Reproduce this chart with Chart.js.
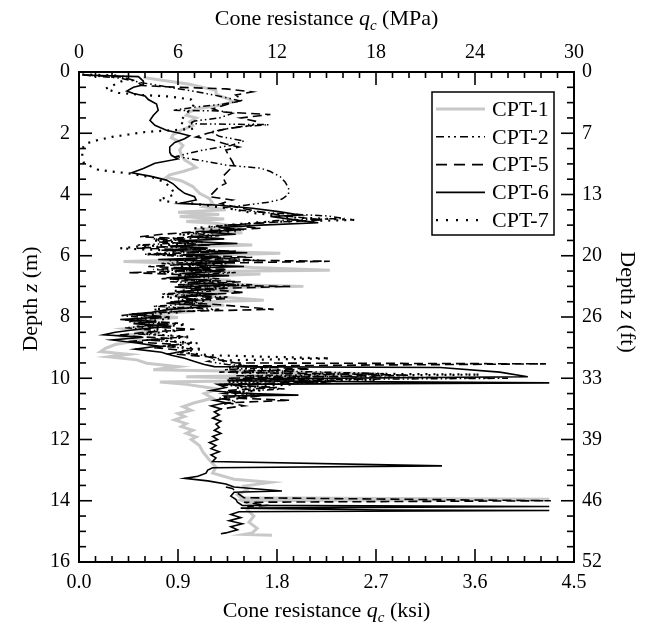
<!DOCTYPE html>
<html>
<head>
<meta charset="utf-8">
<script src="https://cdn.jsdelivr.net/npm/chart.js@4.4.0/dist/chart.umd.min.js"></script>
<style>
  html, body { margin: 0; padding: 0; background: #fff; }
  canvas { display: block; }
</style>
</head>
<body>
<canvas id="cptChart" width="649" height="633"></canvas>
<script>
// tick labels
const mpaTicks = [0, 6, 12, 18, 24, 30];
const ksiLabels = ["0.0", "0.9", "1.8", "2.7", "3.6", "4.5"];
const depthTicks = [0, 2, 4, 6, 8, 10, 12, 14, 16];
const ftLabels = ["0", "7", "13", "20", "26", "33", "39", "46", "52"];

const seriesNames = ["CPT-1", "CPT-2", "CPT-5", "CPT-6", "CPT-7"];

// [depth (m), qc (MPa)]
const cpt1 = [
  [0.18,3.9],[0.40,6.7],[0.60,8.3],[0.70,8.3],[0.78,8.5],[0.88,9.1],[0.98,9.3],[1.09,8.5],[1.20,7.2],[1.30,6.7],
  [1.41,6.5],[1.50,7.1],[1.63,6.7],[1.75,6.9],[1.90,6.2],[2.05,5.7],[2.15,5.6],[2.25,6.0],[2.40,6.3],[2.55,6.1],
  [2.70,6.2],[2.87,6.4],[3.00,6.8],[3.12,7.1],[3.25,6.3],[3.36,5.5],[3.44,5.3],[3.55,6.2],[3.74,6.9],[3.96,7.3],
  [4.13,7.9],[4.29,8.1],[4.40,7.6],[4.50,8.9],[4.58,6.0],[4.65,8.5],[4.72,6.1],[4.80,8.8],[4.88,6.5],[4.95,8.4],
  [5.05,9.5],[5.15,7.0],[5.25,9.9],[5.35,6.8],[5.45,8.2],[5.55,6.0],[5.65,10.5],[5.72,5.5],[5.85,7.5],[5.92,12.2],
  [6.00,6.5],[6.10,9.5],[6.19,2.7],[6.28,8.0],[6.38,10.5],[6.47,15.2],[6.52,6.0],[6.60,11.0],[6.70,5.5],[6.80,9.2],
  [6.90,6.5],[7.00,13.6],[7.05,7.0],[7.15,9.5],[7.25,5.8],[7.35,8.6],[7.45,11.2],[7.52,6.5],[7.62,8.8],[7.72,5.2],
  [7.82,7.0],[7.92,4.0],[8.02,6.0],[8.12,3.0],[8.25,5.0],[8.38,2.8],[8.50,4.5],[8.62,2.5],[8.75,3.8],[8.90,2.2],
  [9.02,1.6],[9.13,1.3],[9.22,3.0],[9.30,1.8],[9.40,3.5],[9.51,4.1],[9.62,6.0],[9.72,4.5],[9.85,18.0],[9.95,6.5],
  [10.05,14.8],[10.12,4.9],[10.20,6.5],[10.35,8.4],[10.50,7.6],[10.65,8.1],[10.80,7.0],[10.93,6.3],[11.05,6.8],[11.15,6.0],
  [11.25,6.4],[11.36,5.8],[11.48,6.5],[11.58,6.2],[11.70,6.9],[11.80,6.5],[11.92,7.1],[12.00,6.8],[12.20,7.3],[12.40,7.5],
  [12.67,7.9],[12.90,8.3],[13.10,8.1],[13.30,9.4],[13.40,11.6],[13.52,10.0],[13.64,10.2],[13.80,9.6],[13.90,9.8],[13.95,28.5],
  [14.00,9.9],[14.10,10.4],[14.30,10.2],[14.50,10.6],[14.70,10.3],[14.90,10.8],[15.05,10.5],[15.10,10.0],[15.13,11.7]
];

const cpt2 = [
  [0.10,0.3],[0.20,2.5],[0.35,3.8],[0.50,5.5],[0.65,7.2],[0.80,8.6],[0.95,9.8],[1.05,8.7],[1.15,7.0],[1.25,5.7],
  [1.27,8.5],[1.35,9.3],[1.50,8.5],[1.60,7.0],[1.69,6.7],[1.72,11.5],[1.80,9.5],[1.95,8.0],[2.10,8.5],[2.25,10.0],
  [2.40,9.2],[2.55,7.5],[2.70,6.3],[2.76,5.9],[2.90,7.5],[3.04,8.9],[3.14,11.0],[3.25,11.6],[3.42,12.2],[3.60,12.5],
  [3.80,12.7],[4.00,12.7],[4.15,12.3],[4.25,11.5],[4.34,10.2],[4.42,8.9],[4.50,9.5],[4.60,11.5],[4.70,15.0],[4.78,16.1],
  [4.85,12.0],[4.95,10.5],[5.05,8.0],[5.15,10.0],[5.25,6.5],[5.35,8.5],[5.45,4.5],[5.55,7.5],[5.65,3.5],[5.75,6.5],
  [5.85,9.0],[5.95,4.0],[6.05,7.5],[6.15,11.0],[6.25,5.0],[6.35,8.0],[6.45,4.5],[6.55,9.5],[6.65,6.0],[6.75,8.5],
  [6.85,5.5],[6.95,10.5],[7.05,6.5],[7.15,8.0],[7.25,5.0],[7.35,9.0],[7.45,6.0],[7.55,7.5],[7.65,4.5],[7.75,8.5],
  [7.85,5.0],[7.95,2.5],[8.05,4.5],[8.15,3.0],[8.25,5.5],[8.35,2.8],[8.45,4.8],[8.55,3.5],[8.65,6.5],[8.75,4.0],
  [8.85,6.8],[8.95,5.0],[9.05,7.0],[9.15,6.0],[9.25,7.5],[9.35,8.5],[9.45,7.8],[9.55,9.0],[9.65,11.5],[9.72,8.8],
  [9.85,18.5],[9.92,9.5],[10.00,26.0],[10.06,9.0],[10.15,15.0],[10.22,8.5],[10.35,12.5],[10.45,8.8],[10.55,10.5],[10.65,8.5],
  [10.75,9.5],[10.85,8.8]
];

const cpt5 = [
  [0.10,0.3],[0.16,2.6],[0.30,3.5],[0.44,3.8],[0.50,6.0],[0.55,8.9],[0.65,10.5],[0.75,9.5],[0.92,9.9],[1.05,9.0],
  [1.20,8.1],[1.30,8.6],[1.39,11.6],[1.50,9.8],[1.62,10.8],[1.74,10.5],[1.85,9.0],[2.00,7.8],[2.12,7.1],[2.22,8.1],
  [2.35,8.9],[2.45,9.7],[2.55,8.9],[2.75,9.1],[2.93,9.3],[3.05,9.4],[3.20,9.1],[3.42,8.7],[3.64,8.9],[3.74,8.5],
  [3.85,8.3],[4.07,7.9],[4.18,9.3],[4.30,8.6],[4.40,9.4],[4.55,10.8],[4.70,12.5],[4.83,14.8],[4.90,12.0],[5.00,9.0],
  [5.10,11.0],[5.20,7.5],[5.30,5.0],[5.38,3.7],[5.45,6.5],[5.55,4.8],[5.65,8.0],[5.75,3.5],[5.85,9.5],[5.95,4.5],
  [6.05,10.5],[6.12,6.0],[6.18,15.2],[6.25,7.5],[6.35,4.2],[6.45,9.0],[6.55,3.0],[6.65,8.0],[6.75,5.0],[6.85,9.8],
  [6.95,6.0],[7.00,12.8],[7.08,7.5],[7.20,10.0],[7.30,6.5],[7.40,9.0],[7.50,5.5],[7.60,8.5],[7.75,11.8],[7.82,6.0],
  [7.90,3.2],[8.00,5.5],[8.10,2.8],[8.20,6.0],[8.30,3.5],[8.40,7.0],[8.50,4.0],[8.60,2.3],[8.70,5.5],[8.80,3.0],
  [8.90,6.0],[9.00,4.5],[9.10,6.5],[9.20,5.5],[9.30,7.8],[9.40,8.5],[9.50,9.5],[9.53,28.3],[9.60,9.5],[9.70,14.0],
  [9.80,8.5],[9.90,20.0],[10.00,9.0],[10.10,16.0],[10.20,8.5],[10.30,12.0],[10.40,9.0],[10.55,11.0],[10.65,9.5],[10.72,12.8],
  [10.80,9.0],[10.90,10.0],[11.00,8.6],[null,null],[13.55,8.9],[13.60,9.3],[13.75,9.6],[13.90,10.0],[14.00,28.6],[14.05,10.0],
  [14.15,11.4],[14.20,10.2]
];

const cpt6 = [
  [0.10,0.2],[0.15,3.6],[0.30,3.9],[0.42,3.9],[0.50,3.3],[0.62,2.9],[0.70,3.3],[0.78,4.0],[0.90,4.2],[1.05,4.7],
  [1.25,4.8],[1.42,4.5],[1.58,4.3],[1.74,4.6],[1.90,5.3],[2.00,6.1],[2.08,6.7],[2.18,6.4],[2.30,5.8],[2.45,5.5],
  [2.62,5.5],[2.72,5.6],[2.84,6.0],[2.98,4.6],[3.15,3.9],[3.29,3.2],[3.40,4.3],[3.53,5.3],[3.65,5.7],[3.80,6.0],
  [3.96,6.4],[4.07,7.0],[4.18,7.1],[4.29,6.1],[4.35,8.5],[4.45,10.5],[4.56,12.1],[4.67,13.4],[4.72,11.6],[4.82,13.0],
  [4.92,14.5],[5.00,11.0],[5.08,8.5],[5.15,9.8],[5.22,7.5],[5.30,9.5],[5.38,6.6],[5.45,8.8],[5.52,6.0],[5.60,9.6],
  [5.68,5.5],[5.75,7.8],[5.82,5.0],[5.90,10.2],[5.97,6.3],[6.05,8.6],[6.12,4.8],[6.20,9.4],[6.28,6.1],[6.35,10.0],
  [6.42,5.6],[6.50,8.8],[6.58,6.2],[6.65,9.1],[6.72,5.3],[6.80,8.0],[6.88,6.6],[6.95,9.5],[7.02,5.8],[7.10,7.7],
  [7.18,5.9],[7.25,8.4],[7.35,6.1],[7.45,7.2],[7.55,5.3],[7.65,8.0],[7.75,5.5],[7.85,4.4],[7.92,3.0],[8.00,5.0],
  [8.08,2.5],[8.15,4.7],[8.22,3.3],[8.30,5.6],[8.40,3.6],[8.50,2.2],[8.58,1.5],[8.66,3.9],[8.75,2.0],[8.85,3.5],
  [8.95,4.8],[9.05,3.4],[9.15,5.0],[9.25,5.6],[9.35,6.4],[9.45,7.0],[9.55,7.6],[9.62,8.2],[9.65,21.9],[9.80,25.5],
  [9.95,27.2],[10.02,10.5],[10.08,9.0],[10.15,28.5],[10.20,8.4],[10.30,8.9],[10.40,8.0],[10.48,9.5],[10.55,13.3],[10.58,8.8],
  [10.65,9.0],[10.72,8.2],[10.80,8.9],[10.90,8.0],[11.00,8.6],[11.10,8.2],[11.20,8.5],[11.30,8.1],[11.40,8.6],[11.50,8.3],
  [11.60,8.5],[11.70,8.2],[11.80,8.6],[11.90,8.1],[12.00,8.4],[12.10,7.9],[12.20,8.3],[12.30,8.0],[12.40,8.5],[12.50,8.0],
  [12.60,8.3],[12.72,8.1],[12.86,22.0],[12.92,8.1],[13.00,7.8],[13.10,7.7],[13.20,7.2],[13.27,6.4],[13.35,7.8],[13.45,8.9],
  [13.55,9.4],[13.68,12.3],[13.72,9.4],[13.85,9.2],[13.95,9.5],[14.05,9.6],[14.15,9.9],[14.19,28.5],[14.24,9.8],[14.30,18.4],
  [14.32,28.5],[14.36,9.7],[14.45,9.2],[14.55,9.8],[14.65,9.1],[14.75,9.9],[14.85,9.2],[14.95,9.6],[15.05,8.9],[15.08,8.6]
];

const cpt7 = [
  [0.08,0.2],[0.12,2.6],[0.25,2.8],[0.40,2.2],[0.55,1.6],[0.68,2.4],[0.75,3.8],[0.80,5.5],[0.90,6.8],[1.03,7.0],
  [1.20,6.8],[1.35,6.5],[1.50,6.3],[1.63,6.1],[1.74,6.5],[1.85,7.0],[1.96,4.0],[2.04,3.0],[2.12,2.0],[2.23,1.1],
  [2.34,0.4],[2.50,0.2],[2.80,0.2],[2.98,0.3],[3.20,1.2],[3.31,3.0],[3.45,4.5],[3.60,5.2],[3.80,5.6],[4.00,5.8],
  [4.18,4.8],[4.24,5.5],[4.30,7.0],[4.45,9.0],[4.60,10.5],[4.75,13.0],[4.83,16.8],[4.90,11.0],[5.00,9.0],[5.10,7.0],
  [5.20,9.5],[5.30,6.0],[5.40,8.0],[5.50,4.5],[5.60,7.0],[5.70,3.5],[5.76,2.5],[5.85,6.5],[5.95,4.0],[6.05,8.5],
  [6.15,5.5],[6.25,9.0],[6.35,6.0],[6.45,8.0],[6.55,4.8],[6.65,7.5],[6.75,5.5],[6.85,8.5],[6.95,6.0],[7.05,9.0],
  [7.15,5.8],[7.25,7.5],[7.35,5.0],[7.45,8.0],[7.55,6.0],[7.65,7.8],[7.75,4.5],[7.85,6.0],[7.95,3.5],[8.05,5.5],
  [8.15,4.0],[8.25,6.5],[8.35,3.8],[8.45,6.0],[8.55,4.0],[8.65,6.8],[8.75,4.5],[8.85,7.2],[8.95,5.5],[9.05,7.5],
  [9.15,6.0],[9.25,8.0],[9.35,15.2],[9.42,8.5],[9.55,10.0],[9.65,9.0],[9.75,13.0],[9.82,9.5],[9.88,24.3],[9.95,10.0],
  [10.05,18.0],[10.12,9.0],[10.20,13.0],[10.30,9.5],[10.40,11.0],[10.50,9.0],[10.60,10.5],[10.70,9.0]
];

const seriesData = [cpt1, cpt2, cpt5, cpt6, cpt7];

const FONT = "'Liberation Serif', 'Times New Roman', serif";
Chart.defaults.font.family = FONT;
Chart.defaults.font.size = 20;
Chart.defaults.color = "#000";

const styles = [
  { color: "#c8c8c8", width: 3, dash: [], legendDash: [], order: 10 },
  { color: "#000", width: 1.5, dash: [7, 3, 1.5, 3, 1.5, 3], legendDash: [8, 4, 2, 4, 2, 4], order: 3 },
  { color: "#000", width: 1.6, dash: [9, 5], legendDash: [11, 7], order: 2 },
  { color: "#000", width: 1.6, dash: [], legendDash: [], order: 0 },
  { color: "#000", width: 2.2, dash: [2, 6], legendDash: [2, 8], order: 4 },
];

const datasets = seriesNames.map((name, i) => ({
  label: name,
  data: seriesData[i].map((p) => ({ x: p[1], y: p[0] })),
  showLine: true,
  borderColor: styles[i].color,
  borderWidth: styles[i].width,
  borderDash: styles[i].dash,
  pointRadius: 0,
  tension: 0,
  order: styles[i].order,
  xAxisID: "x",
  yAxisID: "y",
}));

const noGrid = { display: false, drawTicks: false };

// draw a line of text made of pieces with different fonts, centred on (x, y)
function drawRich(ctx, parts, x, y, angle) {
  ctx.save();
  ctx.translate(x, y);
  ctx.rotate(angle);
  ctx.textBaseline = "alphabetic";
  ctx.textAlign = "left";
  let total = 0;
  parts.forEach((p) => {
    ctx.font = p.font;
    total += ctx.measureText(p.text).width;
  });
  let cx = -total / 2;
  parts.forEach((p) => {
    ctx.font = p.font;
    ctx.fillText(p.text, cx, p.dy || 0);
    cx += ctx.measureText(p.text).width;
  });
  ctx.restore();
}

const frame = {
  id: "frame",
  afterDatasetsDraw(chart) {
    const { ctx, chartArea: a, scales } = chart;
    ctx.save();
    ctx.strokeStyle = "#000";
    ctx.fillStyle = "#000";
    const seg = (x1, y1, x2, y2) => {
      ctx.beginPath();
      ctx.moveTo(x1, y1);
      ctx.lineTo(x2, y2);
      ctx.stroke();
    };
    // inward ticks
    ctx.lineWidth = 1.6;
    for (let v = 0; v <= 30; v += 1) {
      const px = scales.x.getPixelForValue(v);
      const len = v % 6 === 0 ? 13 : 6;
      seg(px, a.bottom, px, a.bottom - len);
      seg(px, a.top, px, a.top + len);
    }
    for (let d = 0; d <= 16; d += 0.5) {
      const py = scales.y.getPixelForValue(d);
      const len = d % 2 === 0 ? 13 : 7;
      seg(a.left, py, a.left + len, py);
      seg(a.right, py, a.right - len, py);
    }
    ctx.lineWidth = 2;
    ctx.strokeRect(a.left, a.top, a.right - a.left, a.bottom - a.top);

    // legend
    const lx = 432, ly = 92, lw = 122, lh = 143, row = 27.8;
    ctx.fillStyle = "#fff";
    ctx.fillRect(lx, ly, lw, lh);
    ctx.lineWidth = 1.5;
    ctx.strokeRect(lx, ly, lw, lh);
    ctx.font = "22px " + FONT;
    ctx.textBaseline = "middle";
    ctx.textAlign = "left";
    seriesNames.forEach((name, i) => {
      const cy = ly + 17 + i * row;
      ctx.strokeStyle = styles[i].color;
      ctx.lineWidth = styles[i].width;
      ctx.setLineDash(styles[i].legendDash);
      seg(lx + 4, cy, lx + 53, cy);
      ctx.setLineDash([]);
      ctx.fillStyle = "#000";
      ctx.fillText(name, lx + 60, cy + 1);
    });

    // axis titles
    ctx.fillStyle = "#000";
    const big = "22px " + FONT, ital = "italic 22px " + FONT, sub = "italic 15px " + FONT;
    const cx = (a.left + a.right) / 2;
    drawRich(ctx, [
      { text: "Cone resistance ", font: big }, { text: "q", font: ital },
      { text: "c", font: sub, dy: 5 }, { text: " (MPa)", font: big }], cx, 25, 0);
    drawRich(ctx, [
      { text: "Cone resistance ", font: big }, { text: "q", font: ital },
      { text: "c", font: sub, dy: 5 }, { text: " (ksi)", font: big }], cx, 617, 0);
    drawRich(ctx, [
      { text: "Depth ", font: big }, { text: "z", font: ital }, { text: " (m)", font: big }],
      37, 299, -Math.PI / 2);
    drawRich(ctx, [
      { text: "Depth ", font: big }, { text: "z", font: ital }, { text: " (ft)", font: big }],
      621, 302, Math.PI / 2);
    ctx.restore();
  },
};

new Chart(document.getElementById("cptChart").getContext("2d"), {
  type: "scatter",
  data: { datasets },
  options: {
    responsive: false,
    animation: false,
    devicePixelRatio: 1,
    layout: { padding: 0 },
    plugins: { legend: { display: false }, tooltip: { enabled: false } },
    scales: {
      x: {
        type: "linear", position: "bottom", min: 0, max: 30,
        grid: noGrid, border: { display: false },
        ticks: { stepSize: 6, padding: 9, autoSkip: false, maxRotation: 0,
          callback: (v) => ksiLabels[mpaTicks.indexOf(v)] },
        afterFit: (s) => { s.height = 71; },
      },
      x2: {
        type: "linear", position: "top", min: 0, max: 30,
        grid: noGrid, border: { display: false },
        ticks: { stepSize: 6, padding: 7, autoSkip: false, maxRotation: 0,
          callback: (v) => String(v) },
        afterFit: (s) => { s.height = 72; },
      },
      y: {
        type: "linear", position: "left", reverse: true, min: 0, max: 16,
        grid: noGrid, border: { display: false },
        ticks: { stepSize: 2, padding: 9, autoSkip: false,
          callback: (v) => String(v) },
        afterFit: (s) => { s.width = 79; },
      },
      y2: {
        type: "linear", position: "right", reverse: true, min: 0, max: 16,
        grid: noGrid, border: { display: false },
        ticks: { stepSize: 2, padding: 8, autoSkip: false,
          callback: (v) => ftLabels[depthTicks.indexOf(v)] },
        afterFit: (s) => { s.width = 75; },
      },
    },
  },
  plugins: [frame],
});
</script>
</body>
</html>
